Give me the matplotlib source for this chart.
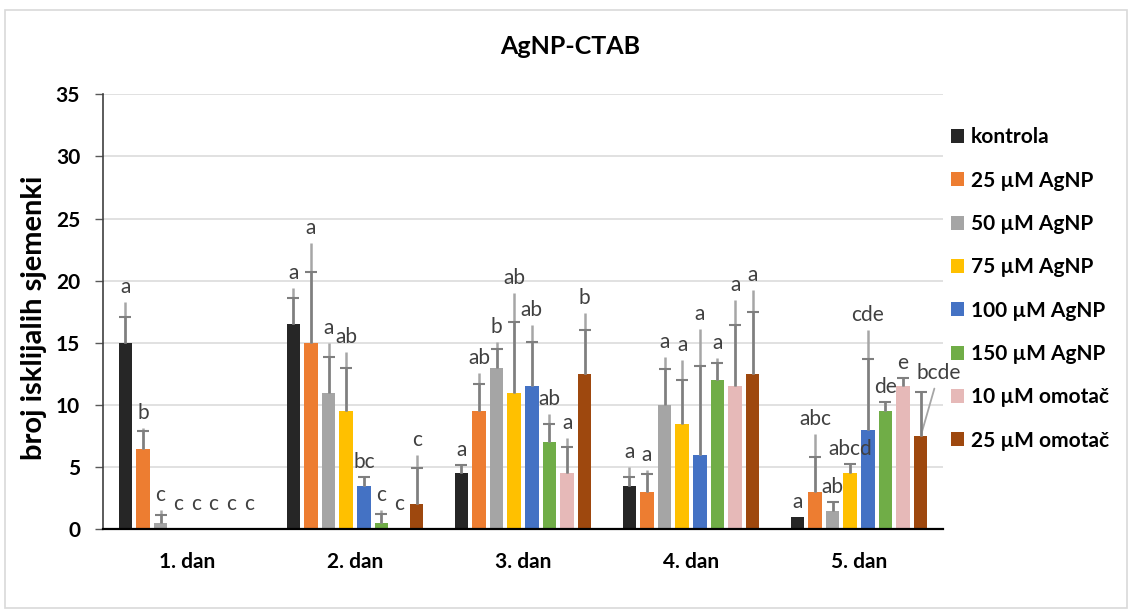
import numpy as np
import matplotlib
matplotlib.use("Agg")
import matplotlib.pyplot as plt
from matplotlib.patches import Rectangle

plt.rcParams['font.family'] = ['Lato', 'DejaVu Sans']

# dani (kategorije na x osi)
dani = ["1. dan", "2. dan", "3. dan", "4. dan", "5. dan"]

# tretmani (serije)
tretmani = ["kontrola", "25 µM AgNP", "50 µM AgNP", "75 µM AgNP",
            "100 µM AgNP", "150 µM AgNP", "10 µM omotač", "25 µM omotač"]
boje = ["#262626", "#ED7D31", "#A5A5A5", "#FFC000",
        "#4472C4", "#70AD47", "#E6B9B8", "#9E480E"]

# srednje vrijednosti po tretmanu (redom po danima)
kontrola = [15, 16.5, 4.5, 3.5, 1]
agnp_25 = [6.5, 15, 9.5, 3, 3]
agnp_50 = [0.5, 11, 13, 10, 1.5]
agnp_75 = [0, 9.5, 11, 8.5, 4.5]
agnp_100 = [0, 3.5, 11.5, 6, 8]
agnp_150 = [0, 0.5, 7, 12, 9.5]
omotac_10 = [0, 0, 4.5, 11.5, 11.5]
omotac_25 = [0, 2, 12.5, 12.5, 7.5]

# standardna pogreska (kraci error bar, s crticom)
se_kontrola = [2.1, 2.1, 0.7, 0.7, 0]
se_agnp_25 = [1.4, 5.7, 2.2, 1.45, 2.85]
se_agnp_50 = [0.65, 2.9, 1.5, 2.9, 0.7]
se_agnp_75 = [0, 3.5, 5.7, 3.55, 0.75]
se_agnp_100 = [0, 0.7, 3.6, 7.1, 5.7]
se_agnp_150 = [0, 0.7, 1.45, 1.4, 0.75]
se_omotac_10 = [0, 0, 2.15, 4.9, 0.7]
se_omotac_25 = [0, 2.9, 3.5, 5.0, 3.55]

# standardna devijacija (dulja linija, bez crtice)
sd_kontrola = [3.3, 2.9, 0.7, 1.5, 0]
sd_agnp_25 = [1.65, 8.0, 3.1, 1.8, 4.7]
sd_agnp_50 = [1.05, 4.0, 2.1, 3.9, 0.7]
sd_agnp_75 = [0, 4.8, 8.0, 5.1, 0.75]
sd_agnp_100 = [0, 0.7, 4.9, 10.1, 8.0]
sd_agnp_150 = [0, 1.05, 2.25, 1.8, 0.75]
sd_omotac_10 = [0, 0, 2.85, 6.95, 0.7]
sd_omotac_25 = [0, 3.95, 4.9, 6.75, 3.55]

# oznake statisticke znacajnosti
oz_kontrola = ["a", "a", "a", "a", "a"]
oz_agnp_25 = ["b", "a", "ab", "a", "abc"]
oz_agnp_50 = ["c", "a", "b", "a", "ab"]
oz_agnp_75 = ["c", "ab", "ab", "a", "abcd"]
oz_agnp_100 = ["c", "bc", "ab", "a", "cde"]
oz_agnp_150 = ["c", "c", "ab", "a", "de"]
oz_omotac_10 = ["c", "c", "a", "a", "e"]
oz_omotac_25 = ["c", "c", "b", "a", "bcde"]

vrijednosti = [kontrola, agnp_25, agnp_50, agnp_75, agnp_100, agnp_150, omotac_10, omotac_25]
se_sve = [se_kontrola, se_agnp_25, se_agnp_50, se_agnp_75, se_agnp_100, se_agnp_150, se_omotac_10, se_omotac_25]
sd_sve = [sd_kontrola, sd_agnp_25, sd_agnp_50, sd_agnp_75, sd_agnp_100, sd_agnp_150, sd_omotac_10, sd_omotac_25]
oznake = [oz_kontrola, oz_agnp_25, oz_agnp_50, oz_agnp_75, oz_agnp_100, oz_agnp_150, oz_omotac_10, oz_omotac_25]

W, H = 1133, 609
fig = plt.figure(figsize=(W / 100, H / 100), dpi=100)
ax = fig.add_axes([103 / W, 1 - 529.3 / H, 840 / W, 435 / H])

x = np.arange(len(dani))
razmak = 0.105
sirina = 0.08

for i, (ime, boja) in enumerate(zip(tretmani, boje)):
    xs = x + (i - 3.5) * razmak
    vals = np.array(vrijednosti[i], dtype=float)
    se = np.array(se_sve[i], dtype=float)
    sd = np.array(sd_sve[i], dtype=float)
    ax.bar(xs, vals, sirina, color=boja, label=ime, zorder=2)

    # SD linija (svijetlija, bez crtice)
    m = sd > 0
    ax.errorbar(xs[m], vals[m], yerr=[np.zeros(m.sum()), sd[m]], fmt='none',
                ecolor="#A6A6A6", elinewidth=1.8, capsize=0, zorder=3)
    # SE s crticom - samo gornja crtica
    m = se > 0
    eb = ax.errorbar(xs[m], vals[m], yerr=[np.zeros(m.sum()), se[m]], fmt='none',
                     ecolor="#7F7F7F", elinewidth=1.8, capsize=4.3, capthick=1.5, zorder=4)
    eb[1][0].set_visible(False)

    # slova iznad stupaca
    for j in range(len(dani)):
        vrh = vals[j] + max(se[j], sd[j])
        if vrh == 0:
            vrh = 0.8
        if oznake[i][j] == "bcde":
            ax.annotate(oznake[i][j], xy=(xs[j], vals[j]), xytext=(13, 41),
                        textcoords='offset points', ha='center', va='baseline',
                        fontsize=15, color="#404040",
                        arrowprops=dict(arrowstyle='-', color="#A6A6A6", lw=1.3,
                                        shrinkA=2, shrinkB=2))
        else:
            ax.annotate(oznake[i][j], xy=(xs[j], vrh), xytext=(0, 6.5),
                        textcoords='offset points', ha='center', va='baseline',
                        fontsize=15, color="#404040", zorder=5)

ax.set_xlim(-0.5, len(dani) - 0.5)
ax.set_ylim(0, 35)
ax.set_yticks(np.arange(0, 36, 5))
ax.set_xticks(x)
ax.set_xticklabels(dani, fontsize=15, fontweight='bold')
ax.tick_params(axis='x', length=0, pad=16)
ax.tick_params(axis='y', length=5.5, width=1, color="#595959", pad=11, labelsize=15)
for t in ax.get_yticklabels():
    t.set_fontweight('bold')

ax.grid(axis='y', color="#D9D9D9", linewidth=1.1, zorder=0)
ax.set_axisbelow(True)
ax.spines['top'].set_visible(False)
ax.spines['right'].set_visible(False)
ax.spines['left'].set_color("#404040")
ax.spines['left'].set_linewidth(1.2)
ax.spines['bottom'].set_color("black")
ax.spines['bottom'].set_linewidth(1.6)

fig.text(570 / W, 1 - 47 / H, "AgNP-CTAB", ha='center', va='center',
         fontsize=18, fontweight='bold')
fig.text(34 / W, 1 - 318 / H, "broj isklijalih sjemenki", ha='center', va='center',
         rotation=90, fontsize=21, fontweight='bold')

fig.legend(loc='center left', bbox_to_anchor=(951 / W, 1 - 289 / H), frameon=False,
           prop={'size': 15, 'weight': 'bold'}, handlelength=0.64, handleheight=0.64,
           handletextpad=0.32, labelspacing=1.12, borderpad=0, borderaxespad=0)

# okvir oko grafa
fig.add_artist(Rectangle((5.5 / W, 1 / H), 1121 / W, 598.5 / H, transform=fig.transFigure,
                         fill=False, edgecolor="#D9D9D9", linewidth=1.2))

fig.savefig("out.png", dpi=100)
